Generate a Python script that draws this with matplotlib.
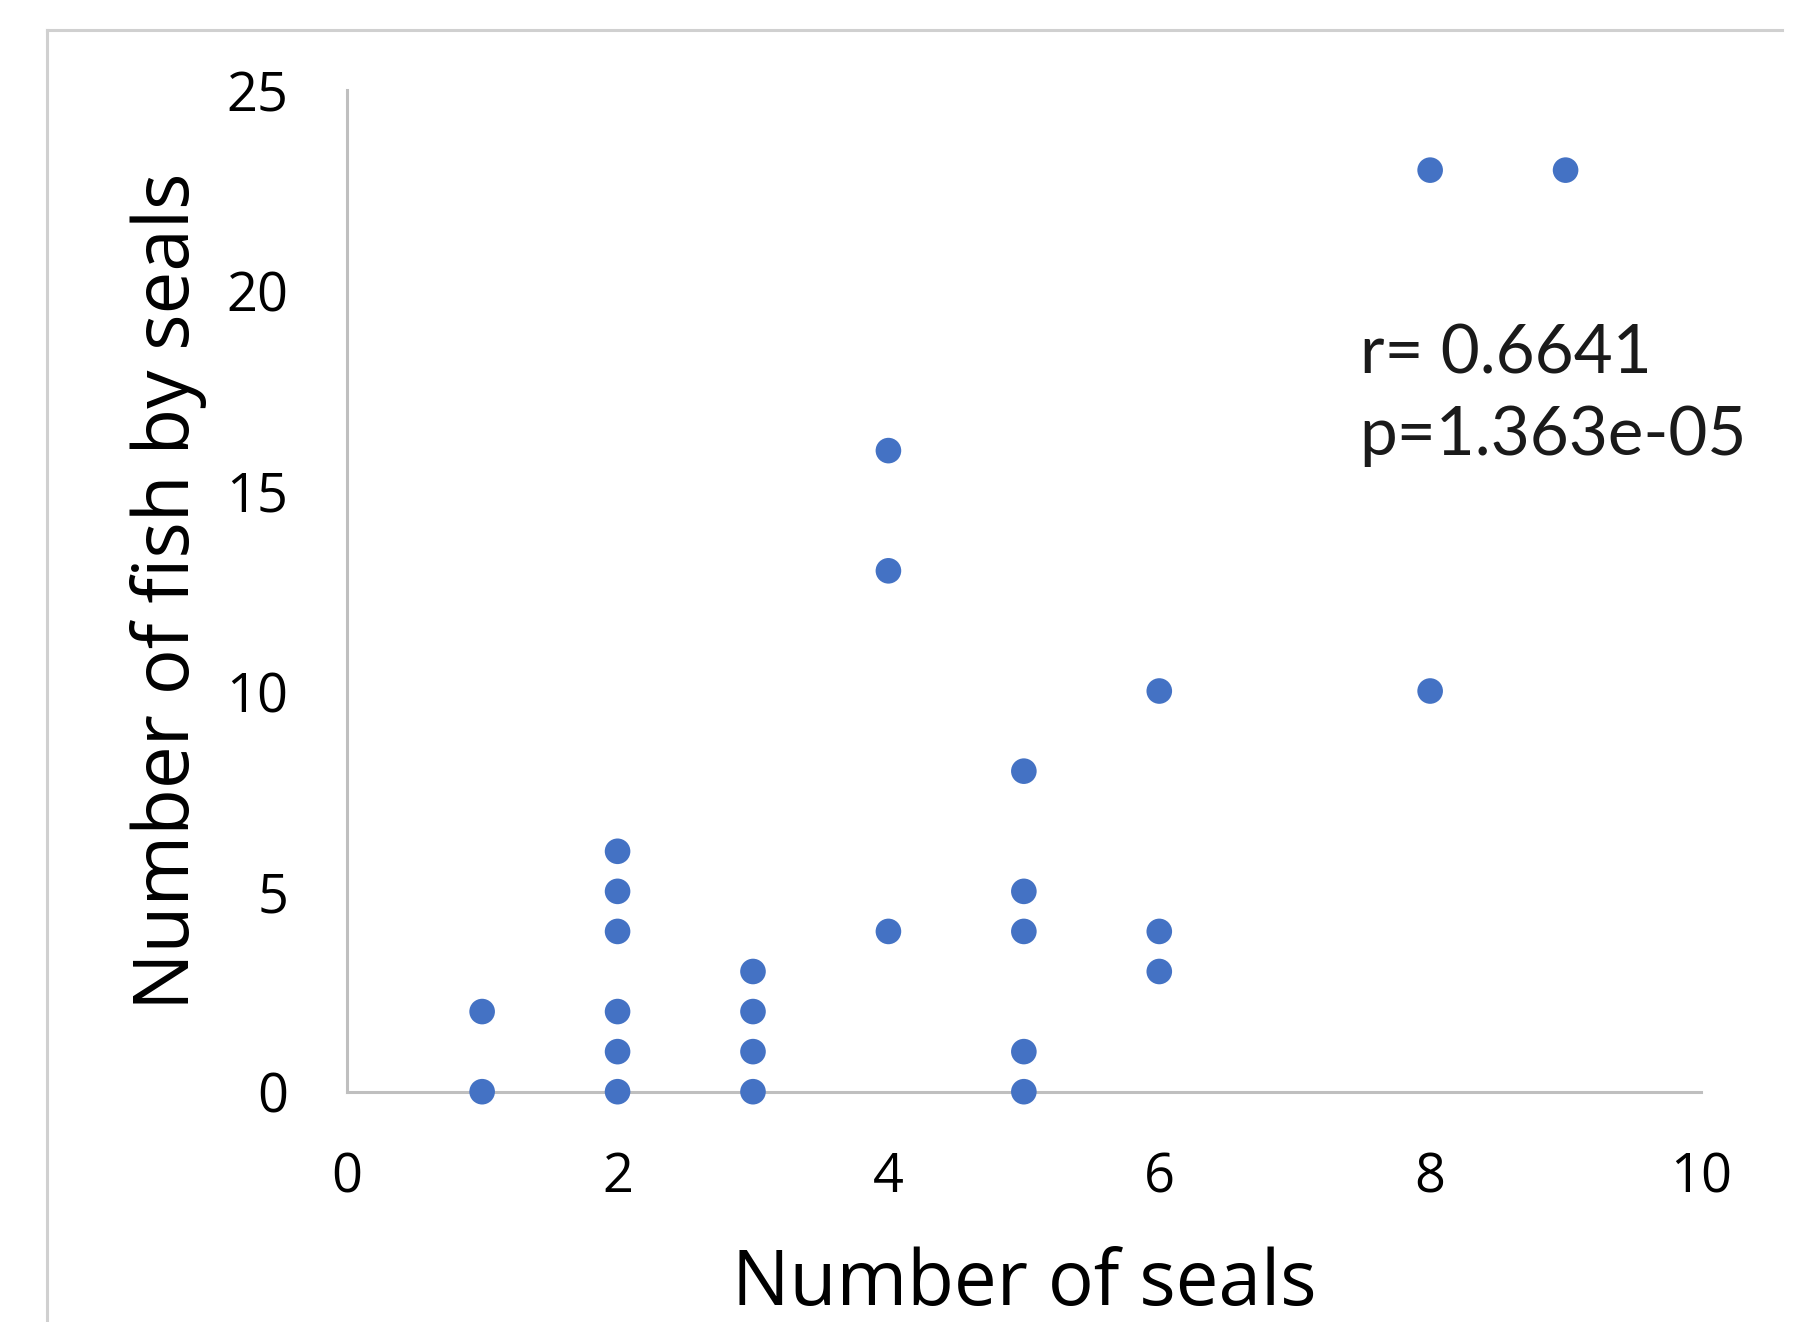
import matplotlib
matplotlib.use("Agg")
import matplotlib.pyplot as plt
from matplotlib.lines import Line2D

# data
seals = [1, 1, 2, 2, 2, 2, 2, 2, 3, 3, 3, 3, 4, 4, 4,
         5, 5, 5, 5, 5, 6, 6, 6, 8, 8, 9]
fish = [0, 2, 0, 1, 2, 4, 5, 6, 0, 1, 2, 3, 4, 13, 16,
        0, 1, 4, 5, 8, 3, 4, 10, 10, 23, 23]
x_ticks = [0, 2, 4, 6, 8, 10]
y_ticks = [0, 5, 10, 15, 20, 25]
stats_text = "r= 0.6641\np=1.363e-05"

W, H = 1810, 1322
fig = plt.figure(figsize=(W / 100, H / 100), dpi=100)
fig.patch.set_facecolor("white")

# chart-area frame (cropped Excel chart)
GRAY = "#D0D0D0"
fig.add_artist(Line2D([47 / W, 47 / W], [0, 1 - 30 / H], color=GRAY, lw=2.2,
                      transform=fig.transFigure))
fig.add_artist(Line2D([47 / W, 1782 / W], [1 - 30 / H, 1 - 30 / H], color=GRAY,
                      lw=2.2, transform=fig.transFigure))

ax = fig.add_axes([346.7 / W, 1 - 1091.7 / H, (1701 - 346.7) / W, (1091.7 - 90) / H])
ax.scatter(seals, fish, s=340, color="#4472C4", edgecolors="none", zorder=3,
           clip_on=False)

ax.set_xlim(0, 10)
ax.set_ylim(0, 25)
ax.set_xticks(x_ticks)
ax.set_yticks(y_ticks)

for side in ("top", "right"):
    ax.spines[side].set_visible(False)
for side in ("left", "bottom"):
    ax.spines[side].set_color("#BFBFBF")
    ax.spines[side].set_linewidth(2.2)

FONT = "Open Sans"
ax.tick_params(axis="both", length=0, labelsize=39, colors="black")
ax.tick_params(axis="y", pad=42)
ax.tick_params(axis="x", pad=42)
for lb in ax.get_xticklabels() + ax.get_yticklabels():
    lb.set_fontfamily(FONT)

ax.set_xlabel("Number of seals", fontsize=55, fontfamily=FONT, labelpad=30)
ax.set_ylabel("Number of fish by seals", fontsize=55, fontfamily=FONT, labelpad=14)

ax.text(7.48, 15.9, stats_text, fontsize=48.5, fontfamily="Lato",
        color="#1a1a1a", va="baseline", ha="left", linespacing=1.38)

fig.savefig("out.png", dpi=100, facecolor="white")
